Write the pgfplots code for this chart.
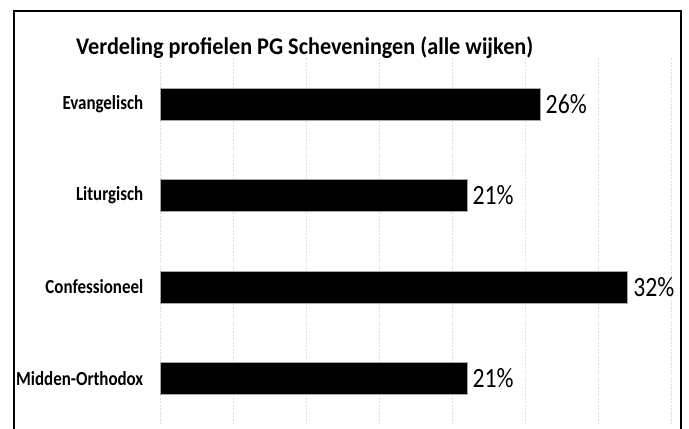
\documentclass[border=0pt]{standalone}
\usepackage{fontspec}
\setmainfont{Carlito}
\newfontfamily\cond[FakeStretch=0.85]{Carlito}
\newfontfamily\condt[FakeStretch=0.93]{Carlito}
\usepackage{pgfplots}
\pgfplotsset{compat=1.18}
\begin{document}
\begin{tikzpicture}[x=1bp,y=1bp]
\useasboundingbox (0,0) rectangle (689,428);
\begin{axis}[
  at={(160bp,3.75bp)}, anchor=south west,
  scale only axis, width=511.5bp, height=366bp,
  xmin=0, xmax=35, ymin=-0.5, ymax=3.5, y dir=reverse,
  xbar, bar width=32bp,
  xtick={0,5,...,35}, xticklabels={},
  ytick={0,1,2,3},
  yticklabels={Evangelisch,Liturgisch,Confessioneel,Midden-Orthodox},
  yticklabel style={font=\cond\bfseries\fontsize{20}{22}\selectfont, xshift=-9bp},
  xmajorgrids, grid style={gray!25, dash pattern=on 2bp off 1.5bp, line width=0.75bp},
  axis line style={draw=none}, tick style={draw=none},
  /pgf/number format/assume math mode=true,
  nodes near coords={\pgfmathprintnumber{\pgfplotspointmeta}\%},
  nodes near coords style={font=\cond\fontsize{28}{30}\selectfont, text=black, inner xsep=5.5bp},
  clip=false,
]
\addplot[fill=black, draw=gray!70, line width=0.5bp] coordinates {(26,0) (21,1) (32,2) (21,3)};
\end{axis}
\node[font=\condt\bfseries\fontsize{24}{28}\selectfont, anchor=base west, inner sep=0pt] at (76,374) {Verdeling profielen PG Scheveningen (alle wijken)};
\draw[line width=2bp] (14,-10) -- (14,417) -- (681,417) -- (681,-10);
\end{tikzpicture}
\end{document}
